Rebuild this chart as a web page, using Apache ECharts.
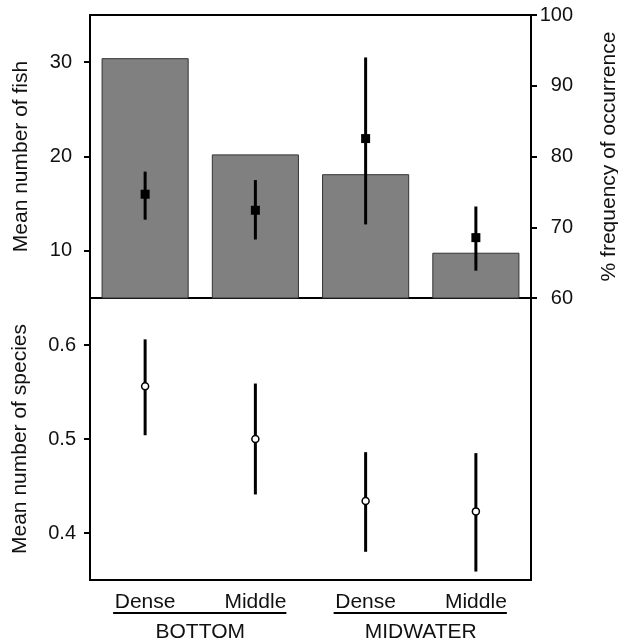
<!DOCTYPE html>
<html>
<head>
<meta charset="utf-8">
<script src="https://cdn.jsdelivr.net/npm/echarts@6/dist/echarts.min.js"></script>
<style>
  html, body { margin: 0; padding: 0; background: #fff; }
  #main { width: 618px; height: 644px; }
</style>
</head>
<body>
<div id="main"></div>
<script>
// data
var categories = ['Dense', 'Middle', 'Dense', 'Middle'];
var groups = ['BOTTOM', 'MIDWATER'];

// % frequency of occurrence (bars, right axis)
var freqOccurrence = [93.9, 80.3, 77.5, 66.4];

// mean number of fish (squares, left axis) and error bar ends
var fishMean = [16.0, 14.3, 21.9, 11.4];
var fishLow = [13.3, 11.2, 12.8, 7.9];
var fishHigh = [18.4, 17.5, 30.5, 14.7];

// mean number of species (open circles) and error bar ends
var speciesMean = [0.556, 0.500, 0.434, 0.423];
var speciesLow = [0.504, 0.441, 0.380, 0.359];
var speciesHigh = [0.606, 0.559, 0.486, 0.485];

var fishTicks = [10, 20, 30];
var speciesTicks = [0.4, 0.5, 0.6];

var FONT = "'Liberation Sans', Arial, Helvetica, sans-serif";

var chart = echarts.init(document.getElementById('main'));

function errorBars(low, high) {
  return low.map(function (v, i) { return [i, v, high[i]]; });
}

function renderErrorBar(params, api) {
  var top = api.coord([api.value(0), api.value(2)]);
  var bottom = api.coord([api.value(0), api.value(1)]);
  return {
    type: 'line',
    shape: { x1: top[0], y1: top[1], x2: bottom[0], y2: bottom[1] },
    style: { stroke: '#000', lineWidth: 3 }
  };
}

var tickLabel = { color: '#111', fontSize: 20, fontFamily: FONT };
var nameStyle = { color: '#111', fontSize: 21, fontFamily: FONT };

option = {
  animation: false,
  textStyle: { fontFamily: FONT },
  grid: [
    { left: 90, right: 87, top: 15, height: 283, containLabel: false, outerBoundsMode: 'none',
      show: true, borderColor: '#000', borderWidth: 2, backgroundColor: 'transparent' },
    { left: 90, right: 87, top: 298, height: 282, containLabel: false, outerBoundsMode: 'none',
      show: true, borderColor: '#000', borderWidth: 2, backgroundColor: 'transparent' }
  ],
  xAxis: [
    {
      type: 'category', gridIndex: 0, data: categories,
      axisLine: { show: false }, axisTick: { show: false }, axisLabel: { show: false }
    },
    {
      type: 'category', gridIndex: 1, data: categories,
      axisLine: { show: false }, axisTick: { show: false },
      axisLabel: { margin: 12, color: '#111', fontSize: 21, fontFamily: FONT }
    },
    {
      type: 'category', gridIndex: 1, data: groups, position: 'bottom', offset: 34,
      axisLine: { show: false }, axisTick: { show: false },
      axisLabel: { margin: 8, color: '#111', fontSize: 21, fontFamily: FONT }
    }
  ],
  yAxis: [
    {
      type: 'value', gridIndex: 0, position: 'left', min: 5, max: 35,
      name: 'Mean number of fish', nameLocation: 'middle', nameGap: 58, nameRotate: 90,
      nameTextStyle: nameStyle,
      axisLine: { show: false },
      axisTick: { show: true, length: 6, lineStyle: { color: '#000', width: 2 }, customValues: fishTicks },
      axisLabel: Object.assign({ margin: 18, customValues: fishTicks }, tickLabel),
      splitLine: { show: false }
    },
    {
      type: 'value', gridIndex: 0, position: 'right', min: 60, max: 100, interval: 10,
      name: '% frequency of occurrence', nameLocation: 'middle', nameGap: 68, nameRotate: 90,
      nameTextStyle: nameStyle,
      axisLine: { show: false },
      axisTick: { show: true, length: 6, lineStyle: { color: '#000', width: 2 } },
      axisLabel: Object.assign({ margin: 42, align: 'right' }, tickLabel),
      splitLine: { show: false }
    },
    {
      type: 'value', gridIndex: 1, position: 'left', min: 0.35, max: 0.65,
      name: 'Mean number of species', nameLocation: 'middle', nameGap: 59, nameRotate: 90,
      nameTextStyle: nameStyle,
      axisLine: { show: false },
      axisTick: { show: true, length: 6, lineStyle: { color: '#000', width: 2 }, customValues: speciesTicks },
      axisLabel: Object.assign({ margin: 14, customValues: speciesTicks }, tickLabel),
      splitLine: { show: false }
    }
  ],
  series: [
    {
      name: '% frequency of occurrence', type: 'bar', xAxisIndex: 0, yAxisIndex: 1,
      data: freqOccurrence, barCategoryGap: '21%', clip: true,
      itemStyle: { color: '#808080', borderColor: '#333', borderWidth: 1 }
    },
    {
      name: 'fish error', type: 'custom', xAxisIndex: 0, yAxisIndex: 0,
      data: errorBars(fishLow, fishHigh), encode: { x: 0, y: [1, 2] },
      renderItem: renderErrorBar, z: 3
    },
    {
      name: 'Mean number of fish', type: 'scatter', xAxisIndex: 0, yAxisIndex: 0,
      data: fishMean, symbol: 'rect', symbolSize: 9,
      itemStyle: { color: '#000', opacity: 1 }, z: 4
    },
    {
      name: 'species error', type: 'custom', xAxisIndex: 1, yAxisIndex: 2,
      data: errorBars(speciesLow, speciesHigh), encode: { x: 0, y: [1, 2] },
      renderItem: renderErrorBar, z: 3
    },
    {
      name: 'Mean number of species', type: 'scatter', xAxisIndex: 1, yAxisIndex: 2,
      data: speciesMean, symbol: 'circle', symbolSize: 7,
      itemStyle: { color: '#fff', borderColor: '#000', borderWidth: 1.5, opacity: 1 }, z: 4
    }
  ]
};

chart.setOption(option);

// underline each pair of category labels, spanning its group
var baseY = chart.convertToPixel({ yAxisIndex: 2 }, 0.35) + 33;
var lines = [];
groups.forEach(function (g, gi) {
  var x0 = chart.convertToPixel({ xAxisIndex: 1 }, gi * 2) - 32;
  var x1 = chart.convertToPixel({ xAxisIndex: 1 }, gi * 2 + 1) + 31;
  lines.push({
    type: 'line', shape: { x1: x0, y1: baseY, x2: x1, y2: baseY },
    style: { stroke: '#000', lineWidth: 2 }
  });
});
chart.setOption({ graphic: lines });
</script>
</body>
</html>
